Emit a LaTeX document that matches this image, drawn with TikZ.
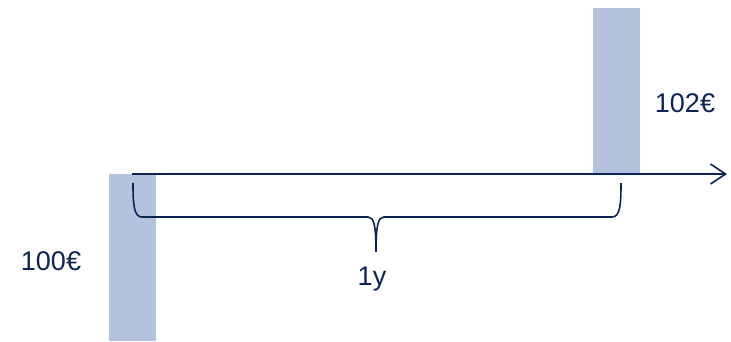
\documentclass[tikz,border=0pt]{standalone}
\usepackage{fontspec}
\setmainfont{Liberation Sans}
\usetikzlibrary{arrows.meta}
\definecolor{cashbar}{RGB}{180,194,222}
\definecolor{navy}{RGB}{12,36,84}

\begin{document}
\begin{tikzpicture}[x=1pt, y=-1pt, font=\fontsize{27}{32}\selectfont,
  flow/.style={fill=cashbar},
  axisline/.style={navy, line width=1.6pt},
  amount/.style={text=navy, inner sep=0pt}]
\useasboundingbox (0,0) rectangle (731,341);
% cash flows
\fill[flow] (109,174) rectangle (156,341);
\fill[flow] (593,8) rectangle (640,174);
% time axis
\coordinate (t0) at (132,174);
\coordinate (tend) at (727,174);
\draw[axisline, -{Straight Barb[length=15pt, width=20pt]}] (t0) -- (tend);
% brace over one year
\coordinate (bl) at (133,183);
\coordinate (br) at (621,183);
\coordinate (tip) at (376,252);
\draw[axisline] (bl) .. controls (133,205) and (134,217) .. (142,217) -- (368,217)
  .. controls (374,217) and (376,226) .. (tip)
  .. controls (376,226) and (378,217) .. (384,217) -- (612,217)
  .. controls (620,217) and (621,205) .. (br);
\node[amount] (pay) at (51,261) {100€};
\node[amount] (get) at (685,103) {102€};
\node[amount] (dur) at (372,279) {1y};
\end{tikzpicture}
\end{document}
